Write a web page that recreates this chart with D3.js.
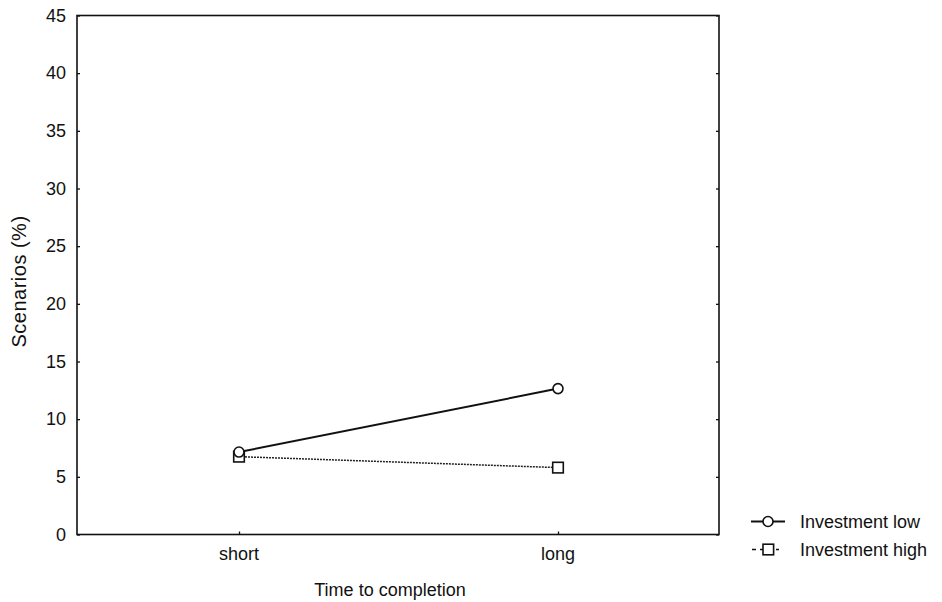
<!DOCTYPE html>
<html><head><meta charset="utf-8">
<script src="https://cdn.jsdelivr.net/npm/d3@7"></script>
<style>body{margin:0;background:#fff}svg{display:block}text{font-family:Arial,"Liberation Sans",sans-serif;fill:#111}</style>
</head><body>
<script>
const categories = ["short", "long"];
const yTicks = [0, 5, 10, 15, 20, 25, 30, 35, 40, 45];
const seriesNames = ["Investment low", "Investment high"];
const investmentLow = [7.15, 12.65];
const investmentHigh = [6.75, 5.8];

const W = 942, H = 602;
const m = {left: 77, right: 719, top: 15.5, bottom: 534.5};
const svg = d3.select("body").append("svg").attr("width", W).attr("height", H);

const x = d3.scalePoint().domain(categories).range([239, 558]);
const y = d3.scaleLinear().domain([0, 45]).range([m.bottom, m.top]);

// frame
svg.append("rect").attr("x", m.left).attr("y", m.top)
  .attr("width", m.right - m.left).attr("height", m.bottom - m.top)
  .attr("fill", "none").attr("stroke", "#111").attr("stroke-width", 1.6);

// left axis (inward ticks)
const ya = svg.append("g").attr("transform", `translate(${m.left},0)`)
  .call(d3.axisRight(y).tickValues(yTicks).tickSize(3).tickFormat(""));
ya.select(".domain").remove();
ya.selectAll("line").attr("stroke", "#111").attr("stroke-width", 1.3);
svg.append("g").selectAll("text").data(yTicks).join("text")
  .attr("x", m.left - 11).attr("y", d => y(d)).attr("dy", "0.35em")
  .attr("text-anchor", "end").style("font-size", "18px").text(d => d);
// right axis inward ticks
const yr = svg.append("g").attr("transform", `translate(${m.right},0)`)
  .call(d3.axisLeft(y).tickValues(yTicks).tickSize(3).tickFormat(""));
yr.select(".domain").remove();
yr.selectAll("line").attr("stroke", "#111").attr("stroke-width", 1.3);

// bottom axis
const xa = svg.append("g").attr("transform", `translate(0,${m.bottom})`)
  .call(d3.axisTop(x).tickSize(3).tickFormat(""));
xa.select(".domain").remove();
xa.selectAll("line").attr("stroke", "#111").attr("stroke-width", 1.3);
svg.append("g").selectAll("text").data(categories).join("text")
  .attr("x", d => x(d)).attr("y", 560).attr("text-anchor", "middle")
  .style("font-size", "18px").text(d => d);

// axis titles
svg.append("text").attr("x", 390).attr("y", 596).attr("text-anchor", "middle")
  .style("font-size", "18px").text("Time to completion");
svg.append("text").attr("transform", `translate(26,281.5) rotate(-90)`)
  .attr("text-anchor", "middle").style("font-size", "20px").style("letter-spacing", "0.5px")
  .text("Scenarios (%)");

const line = d3.line().x((d, i) => x(categories[i])).y(d => y(d));

// high series (dotted)
svg.append("path").attr("d", line(investmentHigh)).attr("fill", "none")
  .attr("stroke", "#222").attr("stroke-width", 1.5).attr("stroke-dasharray", "2,1");
// low series (solid)
svg.append("path").attr("d", line(investmentLow)).attr("fill", "none")
  .attr("stroke", "#111").attr("stroke-width", 2);

svg.append("g").selectAll("rect").data(investmentHigh).join("rect")
  .attr("x", (d, i) => x(categories[i]) - 5.3).attr("y", d => y(d) - 5.3)
  .attr("width", 10.6).attr("height", 10.6)
  .attr("fill", "#fff").attr("stroke", "#111").attr("stroke-width", 1.6);
svg.append("g").selectAll("circle").data(investmentLow).join("circle")
  .attr("cx", (d, i) => x(categories[i])).attr("cy", d => y(d)).attr("r", 5)
  .attr("fill", "#fff").attr("stroke", "#111").attr("stroke-width", 1.6);

// legend
const lg = svg.append("g");
const ly = [521.5, 549.5];
lg.append("line").attr("x1", 751).attr("x2", 785).attr("y1", ly[0]).attr("y2", ly[0])
  .attr("stroke", "#111").attr("stroke-width", 1.8);
lg.append("circle").attr("cx", 768).attr("cy", ly[0]).attr("r", 5)
  .attr("fill", "#fff").attr("stroke", "#111").attr("stroke-width", 1.6);
lg.append("line").attr("x1", 752).attr("x2", 779).attr("y1", ly[1]).attr("y2", ly[1])
  .attr("stroke", "#111").attr("stroke-width", 1.6).attr("stroke-dasharray", "4,4");
lg.append("rect").attr("x", 763).attr("y", ly[1] - 5.3).attr("width", 10.6).attr("height", 10.6)
  .attr("fill", "#fff").attr("stroke", "#111").attr("stroke-width", 1.6);
lg.selectAll("text").data(seriesNames).join("text")
  .attr("x", 800).attr("y", (d, i) => ly[i]).attr("dy", "0.36em")
  .style("font-size", "18px").text(d => d);
</script>
</body></html>
